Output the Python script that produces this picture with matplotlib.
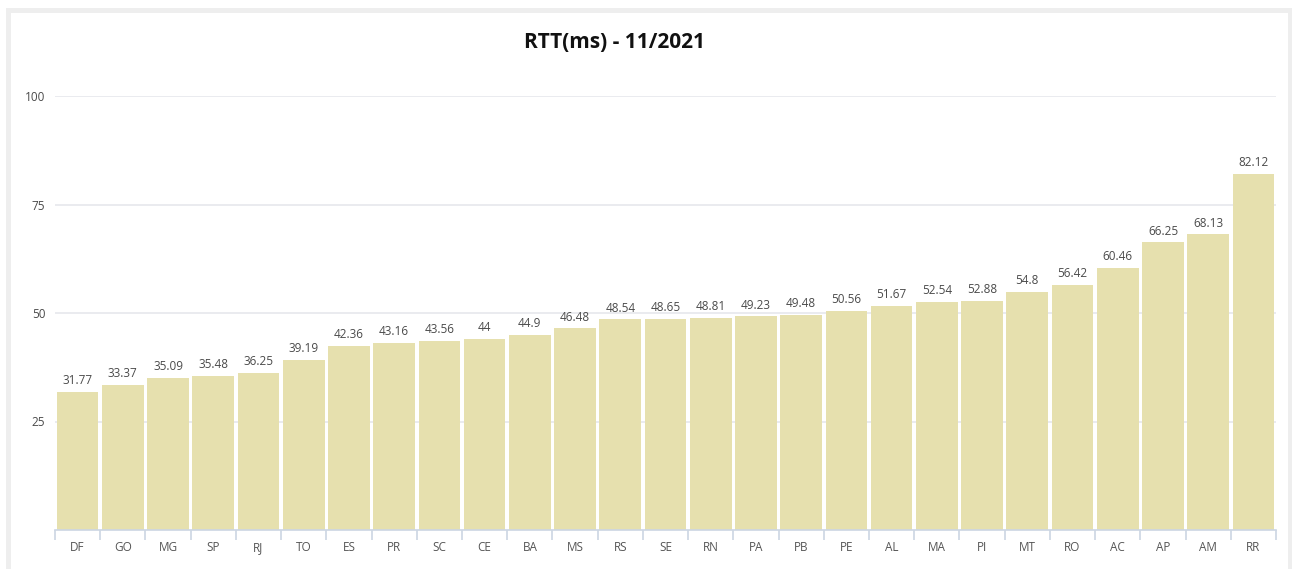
import matplotlib.pyplot as plt
from matplotlib.patches import Rectangle
import numpy as np

states = ['DF', 'GO', 'MG', 'SP', 'RJ', 'TO', 'ES', 'PR', 'SC', 'CE', 'BA', 'MS', 'RS', 'SE',
          'RN', 'PA', 'PB', 'PE', 'AL', 'MA', 'PI', 'MT', 'RO', 'AC', 'AP', 'AM', 'RR']
rtt = [31.77, 33.37, 35.09, 35.48, 36.25, 39.19, 42.36, 43.16, 43.56, 44, 44.9, 46.48, 48.54, 48.65,
       48.81, 49.23, 49.48, 50.56, 51.67, 52.54, 52.88, 54.8, 56.42, 60.46, 66.25, 68.13, 82.12]
yticks = [25, 50, 75, 100]

plt.rcParams['font.family'] = ['Open Sans', 'DejaVu Sans']

W, H = 1292, 569
fig = plt.figure(figsize=(W / 100, H / 100), dpi=100)

# gray frame around the panel
fig.patches.append(Rectangle((7.5 / W, -0.1), (1282 / W), 1 - 9.5 / H + 0.1,
                             transform=fig.transFigure, fill=False,
                             edgecolor='#eeeeee', lw=3.6))

ax = fig.add_axes([55 / W, 1 - 530 / H, (1276 - 55) / W, (530 - 96) / H])
x = np.arange(len(states))
bars = ax.bar(x, rtt, width=0.92, color='#e6e0ae', zorder=2)

for b, v in zip(bars, rtt):
    ax.text(b.get_x() + b.get_width() / 2, v + 1.1, f'{v:g}', ha='center', va='bottom',
            fontsize=8.5, color='#4a4a4a', clip_on=False)

ax.set_xlim(-0.5, len(states) - 0.5)
ax.set_ylim(0, 100)
ax.set_yticks(yticks)
ax.set_yticklabels([str(t) for t in yticks], fontsize=8.5, color='#4a4a4a')
ax.tick_params(axis='y', length=0, pad=7)
ax.grid(axis='y', color='#e6e8ec', lw=1.2, zorder=0)

ax.set_xticks(x)
ax.set_xticklabels(states, fontsize=8.5, color='#555555')
ax.set_xticks(np.arange(len(states) + 1) - 0.5, minor=True)
ax.tick_params(axis='x', which='major', length=0, pad=8)
ax.tick_params(axis='x', which='minor', length=7, color='#ccd6e3', width=1.2)

for s in ['top', 'right', 'left']:
    ax.spines[s].set_visible(False)
ax.spines['bottom'].set_color('#ccd6e3')
ax.spines['bottom'].set_linewidth(1.2)

fig.text(614 / W, 1 - 43 / H, 'RTT(ms) - 11/2021', ha='center', va='center',
         fontsize=15, fontweight='bold', color='#111111')

fig.savefig('out.png', dpi=100)
